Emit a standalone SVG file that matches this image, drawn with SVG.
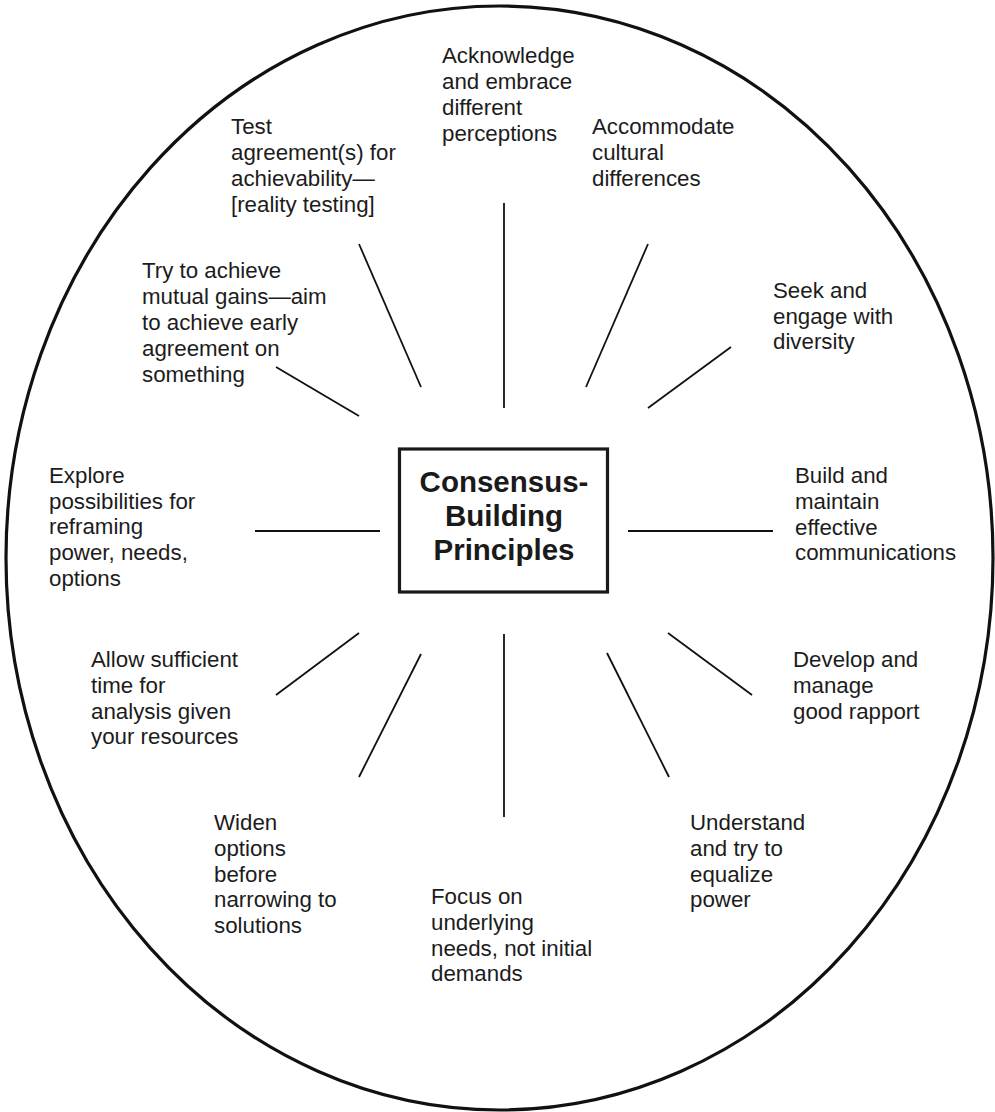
<svg xmlns="http://www.w3.org/2000/svg" width="995" height="1112" viewBox="0 0 995 1112">
<style>
.lbl{font-family:"Liberation Sans",Arial,Helvetica,sans-serif;font-size:22.3px;fill:#1c1c1c}
.ttl{font-family:"Liberation Sans",Arial,Helvetica,sans-serif;font-size:29.5px;font-weight:bold;fill:#1a1a1a}
.con line{stroke:#111;stroke-width:1.8;fill:none}
</style>
<rect width="995" height="1112" fill="#fff"/>
<g id="outer">
<ellipse cx="499.5" cy="558" rx="493.5" ry="552" fill="none" stroke="#111" stroke-width="3.2"/>
</g>
<g id="center">
<rect x="399.5" y="449" width="208" height="143" fill="none" stroke="#1a1a1a" stroke-width="3.2"/>
<text class="ttl" text-anchor="middle"><tspan x="504" y="492">Consensus-</tspan><tspan x="504" y="526">Building</tspan><tspan x="504" y="560">Principles</tspan></text>
</g>
<g class="con" id="connectors">
<line x1="504" y1="203" x2="504" y2="408"/>
<line x1="359" y1="244" x2="421" y2="387"/>
<line x1="648" y1="244" x2="586" y2="387"/>
<line x1="731" y1="347" x2="648" y2="408"/>
<line x1="276" y1="367" x2="359" y2="416"/>
<line x1="255" y1="531" x2="380" y2="531"/>
<line x1="628" y1="531" x2="773" y2="531"/>
<line x1="359" y1="633" x2="276" y2="695"/>
<line x1="421" y1="654" x2="359" y2="777"/>
<line x1="504" y1="634" x2="504" y2="817"/>
<line x1="607" y1="653" x2="669" y2="777"/>
<line x1="668" y1="633" x2="752" y2="695"/>
</g>
<g id="n-acknowledge"><text class="lbl"><tspan x="442" y="63">Acknowledge</tspan><tspan x="442" y="89">and embrace</tspan><tspan x="442" y="114.5">different</tspan><tspan x="442" y="140.5">perceptions</tspan></text></g>
<g id="n-test"><text class="lbl"><tspan x="231" y="134">Test</tspan><tspan x="231" y="160">agreement(s) for</tspan><tspan x="231" y="186">achievability—</tspan><tspan x="231" y="212">[reality testing]</tspan></text></g>
<g id="n-accommodate"><text class="lbl"><tspan x="592" y="134">Accommodate</tspan><tspan x="592" y="160">cultural</tspan><tspan x="592" y="186">differences</tspan></text></g>
<g id="n-seek"><text class="lbl"><tspan x="773" y="298">Seek and</tspan><tspan x="773" y="323.5">engage with</tspan><tspan x="773" y="349">diversity</tspan></text></g>
<g id="n-try"><text class="lbl"><tspan x="142" y="278">Try to achieve</tspan><tspan x="142" y="304">mutual gains—aim</tspan><tspan x="142" y="330">to achieve early</tspan><tspan x="142" y="356">agreement on</tspan><tspan x="142" y="381.5">something</tspan></text></g>
<g id="n-explore"><text class="lbl"><tspan x="49" y="483">Explore</tspan><tspan x="49" y="508.7">possibilities for</tspan><tspan x="49" y="534.4">reframing</tspan><tspan x="49" y="560">power, needs,</tspan><tspan x="49" y="585.7">options</tspan></text></g>
<g id="n-build"><text class="lbl"><tspan x="795" y="483">Build and</tspan><tspan x="795" y="509">maintain</tspan><tspan x="795" y="534.5">effective</tspan><tspan x="795" y="560">communications</tspan></text></g>
<g id="n-allow"><text class="lbl"><tspan x="91" y="667">Allow sufficient</tspan><tspan x="91" y="693">time for</tspan><tspan x="91" y="718.5">analysis given</tspan><tspan x="91" y="744">your resources</tspan></text></g>
<g id="n-develop"><text class="lbl"><tspan x="793" y="667">Develop and</tspan><tspan x="793" y="693">manage</tspan><tspan x="793" y="718.5">good rapport</tspan></text></g>
<g id="n-widen"><text class="lbl"><tspan x="214" y="830">Widen</tspan><tspan x="214" y="855.7">options</tspan><tspan x="214" y="881.5">before</tspan><tspan x="214" y="907.3">narrowing to</tspan><tspan x="214" y="933">solutions</tspan></text></g>
<g id="n-focus"><text class="lbl"><tspan x="431" y="904">Focus on</tspan><tspan x="431" y="930">underlying</tspan><tspan x="431" y="955.7">needs, not initial</tspan><tspan x="431" y="981">demands</tspan></text></g>
<g id="n-understand"><text class="lbl"><tspan x="690" y="830">Understand</tspan><tspan x="690" y="855.7">and try to</tspan><tspan x="690" y="881.5">equalize</tspan><tspan x="690" y="907.3">power</tspan></text></g>
</svg>
